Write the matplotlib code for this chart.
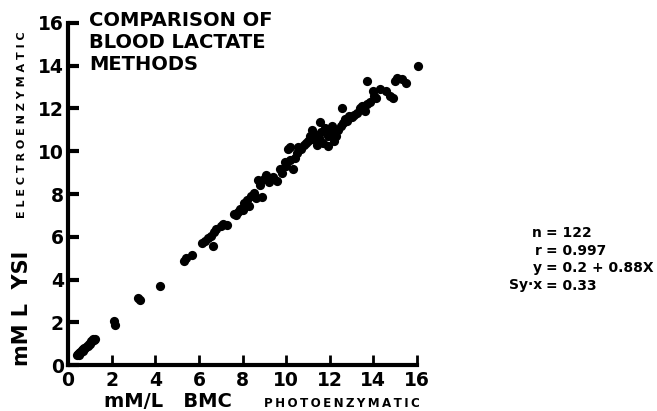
import matplotlib
matplotlib.use("Agg")
import matplotlib.pyplot as plt

# BMC (photoenzymatic) vs YSI (electroenzymatic), mM/L
bmc = [0.40, 0.45, 0.50, 0.50, 0.55, 0.60, 0.65, 0.70, 0.70, 0.75,
       0.80, 0.85, 0.90, 0.95, 1.00, 1.05, 1.10, 1.15, 1.20, 1.25,
       2.10, 2.15, 3.20, 3.30, 4.20,
       5.30, 5.40, 5.70, 6.15, 6.30, 6.65, 6.55, 6.80, 7.00, 7.30,
       7.60, 7.80, 8.00, 8.05, 8.30, 8.55, 8.60, 8.90, 8.70, 9.00,
       9.20, 9.60, 9.70, 9.95, 10.00, 10.20, 10.30, 10.10, 10.20, 10.55,
       10.80, 10.60,
       11.00, 11.20, 11.20, 11.30, 11.40, 11.55, 11.60, 11.70, 11.80, 11.90,
       12.00, 12.10, 12.30, 12.40, 12.50, 12.55, 12.70, 12.90, 13.10, 13.25,
       13.40, 13.60, 13.70, 13.85, 14.00, 13.70, 14.10, 14.60, 14.90, 14.75,
       15.10, 15.30, 15.50, 16.05,
       6.40, 6.70, 7.10, 7.70, 7.90, 8.20, 8.40, 8.80, 9.10, 9.40,
       9.80, 10.40, 10.50, 10.70, 10.90, 11.10, 11.50, 11.90, 12.20, 12.60,
       12.80, 13.00, 13.50, 14.05, 14.30, 15.00]
ysi = [0.45, 0.50, 0.55, 0.45, 0.60, 0.60, 0.70, 0.65, 0.75, 0.80,
       0.80, 0.90, 0.90, 1.00, 1.00, 1.10, 1.10, 1.20, 1.15, 1.20,
       2.05, 1.85, 3.15, 3.05, 3.70,
       4.85, 5.00, 5.15, 5.70, 5.80, 5.55, 6.05, 6.35, 6.50, 6.55,
       7.05, 7.15, 7.25, 7.60, 7.45, 8.05, 7.80, 7.85, 8.65, 8.70,
       8.55, 8.60, 9.15, 9.50, 9.30, 9.60, 9.15, 10.10, 10.20, 10.20,
       10.30, 10.15,
       10.50, 11.00, 10.55, 10.80, 10.30, 11.35, 10.90, 10.40, 11.10, 10.25,
       10.90, 11.20, 10.70, 11.00, 11.20, 12.00, 11.50, 11.65, 11.70, 11.80,
       12.00, 11.90, 12.20, 12.30, 12.80, 13.30, 12.50, 12.80, 12.50, 12.60,
       13.45, 13.40, 13.20, 14.00,
       5.95, 6.20, 6.60, 7.00, 7.30, 7.70, 7.90, 8.40, 8.90, 8.80,
       9.00, 9.70, 9.90, 10.10, 10.40, 10.70, 10.60, 10.70, 10.50, 11.30,
       11.40, 11.60, 12.10, 12.60, 12.90, 13.30]

ticks = [0, 2, 4, 6, 8, 10, 12, 14, 16]
title_lines = ["COMPARISON OF", "BLOOD LACTATE", "METHODS"]
stat_names = ["n", "r", "y", "Sy\u00b7x"]
stat_vals = ["= 122", "= 0.997", "= 0.2 + 0.88X", "= 0.33"]

W, H = 657, 411
fig = plt.figure(figsize=(W / 100, H / 100), dpi=100)
ax = fig.add_axes([68 / W, 1 - 365 / H, (417 - 68) / W, (365 - 23) / H])

ax.scatter(bmc, ysi, s=44, color="black", linewidths=0, zorder=3, clip_on=False)

ax.set_xlim(0, 16)
ax.set_ylim(0, 16)
ax.set_xticks(ticks)
ax.set_yticks(ticks)
for s in ["top", "right"]:
    ax.spines[s].set_visible(False)
for s in ["left", "bottom"]:
    ax.spines[s].set_linewidth(3)
ax.tick_params(axis="y", direction="in", length=8, width=3, pad=3)
ax.tick_params(axis="x", direction="in", length=7, width=2, pad=4)
for lab in ax.get_xticklabels() + ax.get_yticklabels():
    lab.set_fontsize(13.5)
    lab.set_fontweight("bold")
    lab.set_family("DejaVu Sans")

def px(x, y):
    return x / W, 1 - y / H

# title inside the plot
for i, t in enumerate(title_lines):
    fig.text(*px(89, 20 + i * 22), t, fontsize=14, fontweight="bold",
             va="center", ha="left")

# y axis labels
fig.text(*px(22, 366), "mM L  YSI", rotation=90, fontsize=15,
         fontweight="bold", ha="center", va="bottom")
fig.text(*px(22, 218), " ".join("ELECTROENZYMATIC"), rotation=90, fontsize=8,
         fontweight="bold", ha="center", va="bottom")

# x axis labels
fig.text(*px(104, 401), "mM/L   BMC", fontsize=14, fontweight="bold",
         ha="left", va="center")
fig.text(*px(264, 403), "\u2009".join("PHOTOENZYMATIC"), fontsize=8.6,
         fontweight="bold", ha="left", va="center")

# regression stats
for i, (n, v) in enumerate(zip(stat_names, stat_vals)):
    y = 233 + i * 17.5
    fig.text(*px(542, y), n, fontsize=10, fontweight="bold", ha="right", va="center")
    fig.text(*px(546, y), v, fontsize=10, fontweight="bold", ha="left", va="center")

fig.savefig("out.png", dpi=100)
